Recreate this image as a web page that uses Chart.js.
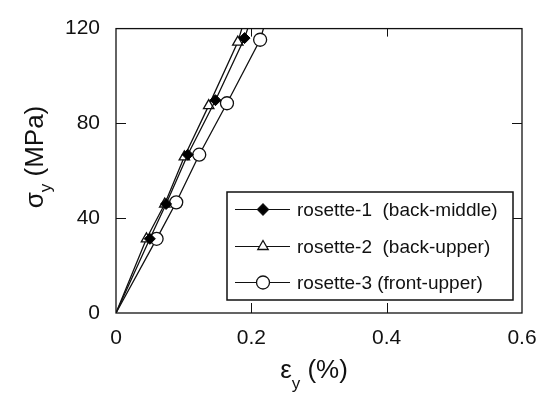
<!DOCTYPE html>
<html lang="en">
<head>
  <meta charset="UTF-8">
  <title>Rosette stress-strain</title>
  <script src="https://cdn.jsdelivr.net/npm/chart.js"></script>
  <style>
    body { margin: 0; background: #fff; }
    canvas { display: block; }
  </style>
</head>
<body>
  <canvas id="rosetteChart" width="551" height="396"></canvas>

<script>
  // strain eps_y (%) and stress sigma_y (MPa) per rosette
  const r1Strain = [0, 0.050, 0.074, 0.106, 0.147, 0.190, 0.197];
  const r1Stress = [0, 31.3, 46.0, 66.8, 89.8, 116.0, 122];
  const r2Strain = [0, 0.045, 0.072, 0.101, 0.137, 0.180, 0.188];
  const r2Stress = [0, 31.3, 46.0, 65.9, 87.5, 114.3, 122];
  const r3Strain = [0, 0.060, 0.089, 0.123, 0.164, 0.213, 0.220];
  const r3Stress = [0, 31.3, 46.7, 66.8, 88.5, 115.3, 122];

  const seriesNames = ['rosette-1  (back-middle)', 'rosette-2  (back-upper)', 'rosette-3 (front-upper)'];
  const xTicks = [0, 0.2, 0.4, 0.6];
  const yTicks = [0, 40, 80, 120];

  const FONT = '"Liberation Sans", Arial, Helvetica, sans-serif';
  const markerSizes = [5.5, 6, 6.5];

  function pts(xs, ys) {
    return xs.map((x, i) => ({ x: x, y: ys[i] }));
  }

  // no marker on the origin or on the trace running off the top
  function markerRadius(r, n) {
    return ctx => (ctx.dataIndex === 0 || ctx.dataIndex === n - 1) ? 0 : r;
  }

  // inward ticks on all four sides plus the frame
  const frameTicks = {
    id: 'frameTicks',
    afterDatasetsDraw(chart) {
      const { ctx, chartArea: a, scales: { x, y } } = chart;
      ctx.save();
      ctx.strokeStyle = '#111';
      ctx.lineWidth = 1.3;
      ctx.strokeRect(a.left, a.top, a.right - a.left, a.bottom - a.top);
      ctx.lineWidth = 1;
      ctx.beginPath();
      xTicks.slice(1, -1).forEach(v => {
        const px = Math.round(x.getPixelForValue(v)) + 0.5;
        ctx.moveTo(px, a.bottom); ctx.lineTo(px, a.bottom - 10);
        ctx.moveTo(px, a.top); ctx.lineTo(px, a.top + 8);
      });
      yTicks.slice(1, -1).forEach(v => {
        const py = Math.round(y.getPixelForValue(v)) + 0.5;
        ctx.moveTo(a.left, py); ctx.lineTo(a.left + 10, py);
        ctx.moveTo(a.right, py); ctx.lineTo(a.right - 10, py);
      });
      ctx.stroke();
      ctx.restore();
    }
  };

  // boxed legend inside the plot, lower right
  const boxLegend = {
    id: 'boxLegend',
    afterDraw(chart) {
      const { ctx } = chart;
      const bx = 227, by = 192, bw = 286, bh = 108;
      ctx.save();
      ctx.fillStyle = '#fff';
      ctx.fillRect(bx, by, bw, bh);
      ctx.strokeStyle = '#111';
      ctx.lineWidth = 1.5;
      ctx.strokeRect(bx, by, bw, bh);
      chart.data.datasets.forEach((ds, i) => {
        const cy = Math.round(by + 17 + i * 36.5) + 0.5;
        ctx.strokeStyle = '#111';
        ctx.lineWidth = 1;
        ctx.beginPath();
        ctx.moveTo(bx + 8, cy); ctx.lineTo(bx + 63, cy);
        ctx.stroke();
        ctx.fillStyle = ds.pointBackgroundColor;
        ctx.strokeStyle = '#111';
        ctx.lineWidth = 1.3;
        Chart.helpers.drawPoint(ctx, {
          pointStyle: ds.pointStyle,
          rotation: 0,
          radius: markerSizes[i],
          borderWidth: 1.3
        }, bx + 36, cy);
        ctx.fillStyle = '#111';
        ctx.font = '19px ' + FONT;
        ctx.textBaseline = 'middle';
        ctx.textAlign = 'left';
        ctx.fillText(ds.label, bx + 70, cy + 1);
      });
      ctx.restore();
    }
  };

  // axis titles with subscript y
  const axisTitles = {
    id: 'axisTitles',
    afterDraw(chart) {
      const { ctx } = chart;
      ctx.save();
      ctx.fillStyle = '#111';
      ctx.textBaseline = 'alphabetic';
      ctx.textAlign = 'left';

      const big = '26px ' + FONT, small = '17px ' + FONT;
      function piece(text, font, x, dy) {
        ctx.font = font;
        ctx.fillText(text, x, dy);
        return x + ctx.measureText(text).width;
      }
      function width(parts) {
        return parts.reduce((w, p) => { ctx.font = p[1]; return w + ctx.measureText(p[0]).width; }, 0);
      }

      // x title
      const xParts = [['\u03b5', big, 0], ['y', small, 11], [' (%)', big, 0]];
      let cx = 314 - width(xParts) / 2;
      xParts.forEach(p => { cx = piece(p[0], p[1], cx, 378 + p[2]); });

      // y title, rotated
      const yParts = [['\u03c3', big, 0], ['y', small, 8], [' (MPa)', big, 0]];
      ctx.translate(43, 157);
      ctx.rotate(-Math.PI / 2);
      let cyx = -width(yParts) / 2;
      yParts.forEach(p => { cyx = piece(p[0], p[1], cyx, p[2]); });
      ctx.restore();
    }
  };

  new Chart(document.getElementById('rosetteChart'), {
    type: 'scatter',
    data: {
      datasets: [
        {
          label: seriesNames[0],
          data: pts(r1Strain, r1Stress),
          showLine: true,
          borderColor: '#111',
          borderWidth: 1.3,
          pointStyle: 'rectRot',
          pointRadius: markerRadius(markerSizes[0], r1Strain.length),
          pointBackgroundColor: '#000',
          pointBorderColor: '#000',
          pointBorderWidth: 1
        },
        {
          label: seriesNames[1],
          data: pts(r2Strain, r2Stress),
          showLine: true,
          borderColor: '#111',
          borderWidth: 1.3,
          pointStyle: 'triangle',
          pointRadius: markerRadius(markerSizes[1], r2Strain.length),
          pointBackgroundColor: '#fff',
          pointBorderColor: '#111',
          pointBorderWidth: 1.3
        },
        {
          label: seriesNames[2],
          data: pts(r3Strain, r3Stress),
          showLine: true,
          borderColor: '#111',
          borderWidth: 1.3,
          pointStyle: 'circle',
          pointRadius: markerRadius(markerSizes[2], r3Strain.length),
          pointBackgroundColor: '#fff',
          pointBorderColor: '#111',
          pointBorderWidth: 1.3
        }
      ]
    },
    options: {
      responsive: false,
      animation: false,
      layout: { padding: { top: 14, right: 29, left: 0, bottom: 0 } },
      plugins: {
        legend: { display: false },
        tooltip: { enabled: false }
      },
      scales: {
        x: {
          type: 'linear',
          min: 0, max: 0.6,
          afterBuildTicks: s => { s.ticks = xTicks.map(v => ({ value: v })); },
          afterFit: s => { s.height = 83; },
          grid: { display: false, drawTicks: false },
          border: { display: false },
          ticks: {
            color: '#111',
            padding: 13,
            maxRotation: 0,
            font: { family: FONT, size: 21 },
            callback: v => v === 0 ? '0' : String(v)
          }
        },
        y: {
          type: 'linear',
          min: 0, max: 120,
          afterBuildTicks: s => { s.ticks = yTicks.map(v => ({ value: v })); },
          afterFit: s => { s.width = 116; },
          grid: { display: false, drawTicks: false },
          border: { display: false },
          ticks: {
            color: '#111',
            padding: 16,
            font: { family: FONT, size: 21 }
          }
        }
      }
    },
    plugins: [frameTicks, boxLegend, axisTitles]
  });
</script>

</body>
</html>
